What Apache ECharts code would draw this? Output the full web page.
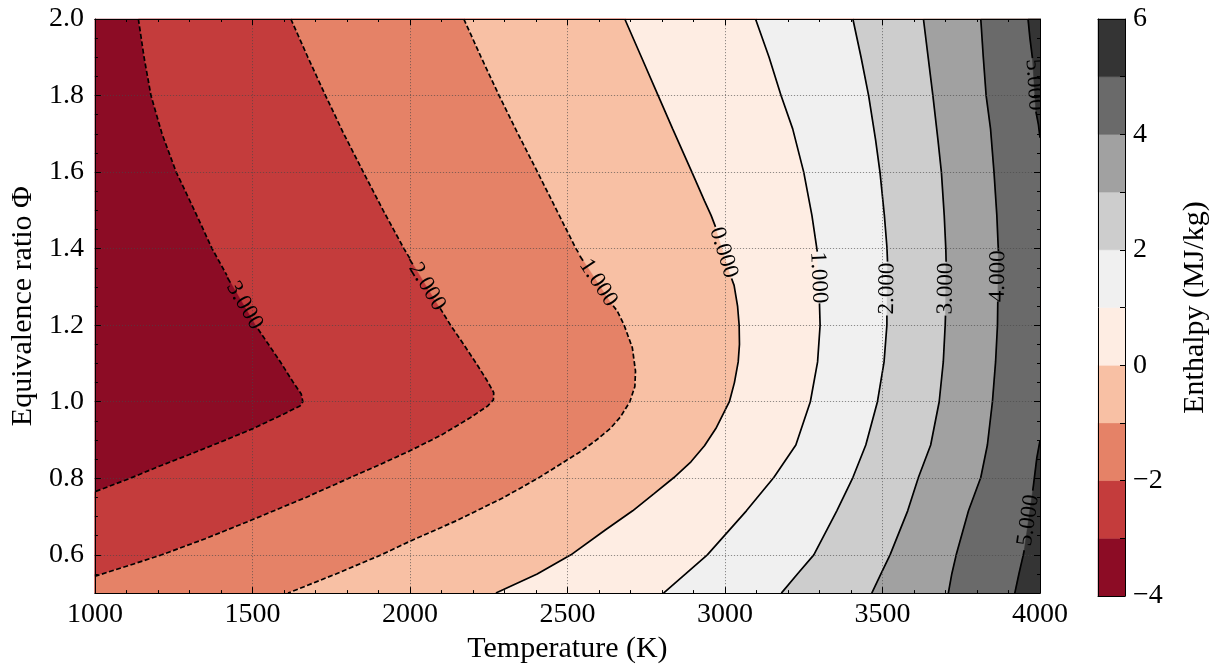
<!DOCTYPE html>
<html>
<head>
<meta charset="utf-8">
<script src="https://cdn.jsdelivr.net/npm/echarts@6.0.0/dist/echarts.min.js"></script>
<style>
  html, body { margin: 0; padding: 0; background: #fff; }
  #chart { width: 1221px; height: 669px; }
</style>
</head>
<body>
<div id="chart"></div>
<script>
// Enthalpy levels (MJ/kg) and the colour of each band between two levels
const levels = [-4, -3, -2, -1, 0, 1, 2, 3, 4, 5, 6];
const bandColors = ['#8c0c25', '#c43c3c', '#e58267', '#f8c0a4', '#feede3',
                    '#f0f0f0', '#cdcdcd', '#a1a1a1', '#6a6a6a', '#343434'];

// Axis ranges and ticks
const tempRange = [1000, 4000];
const phiRange = [0.5, 2.0];
const tempStep = 500;
const phiTicks = [0.6, 0.8, 1.0, 1.2, 1.4, 1.6, 1.8, 2.0];
const phiMinorStep = 0.05;
const cbarStep = 2;

// Iso-enthalpy lines as [T (K), Φ]; null marks the gap where the inline label sits
const isoM3 = [[1138, 2.0], [1156, 1.9], [1178, 1.8], [1213, 1.7], [1258, 1.6], [1316, 1.5],
  [1372, 1.4], [1419, 1.33], null, [1518, 1.19], [1592, 1.1], [1630, 1.05], [1655, 1.02],
  [1660, 1.0], [1651, 0.989], [1600, 0.968], [1500, 0.929], [1400, 0.895], [1300, 0.862],
  [1200, 0.830], [1115, 0.801], [1000, 0.765]];
const isoM2 = [[1622, 2.0], [1676, 1.9], [1732, 1.8], [1790, 1.7], [1852, 1.6], [1915, 1.5],
  [1981, 1.4], [2000, 1.374], null, [2096, 1.244], [2129, 1.2], [2172, 1.148], [2213, 1.097],
  [2245, 1.055], [2266, 1.024], [2265, 1.005], [2247, 0.989], [2191, 0.958], [2100, 0.913],
  [1998, 0.871], [1900, 0.834], [1806, 0.80], [1670, 0.75], [1492, 0.689], [1350, 0.642],
  [1212, 0.6], [1100, 0.57], [1000, 0.544]];
const isoM1 = [[2171, 2.0], [2226, 1.9], [2283, 1.8], [2343, 1.7], [2405, 1.6], [2466, 1.5],
  [2527, 1.4], [2537, 1.387], null, [2645, 1.251], [2658, 1.237], [2680, 1.2], [2706, 1.141],
  [2716, 1.08], [2714, 1.04], [2698, 1.0], [2668, 0.96], [2636, 0.93], [2592, 0.9],
  [2542, 0.87], [2484, 0.84], [2406, 0.8], [2298, 0.75], [2150, 0.69], [2004, 0.637],
  [1909, 0.6], [1765, 0.55], [1613, 0.5]];
const iso0 = [[2682, 2.0], [2735, 1.9], [2788, 1.8], [2834, 1.713], [2895, 1.6], [2935, 1.525],
  [2956, 1.487], [2970, 1.457], null, [3021, 1.322], [3029, 1.304], [3040, 1.25], [3045, 1.2],
  [3046, 1.15], [3042, 1.104], [3030, 1.05], [3014, 1.0], [2971, 0.93], [2935, 0.885],
  [2892, 0.843], [2838, 0.802], [2775, 0.76], [2707, 0.715], [2620, 0.665], [2511, 0.6],
  [2404, 0.55], [2273, 0.5]];
const iso1 = [[3097, 2.0], [3140, 1.9], [3178, 1.8], [3215, 1.713], [3250, 1.6], [3276, 1.487],
  [3290, 1.409], [3293, 1.392], null, [3300, 1.257], [3302, 1.2], [3294, 1.104], [3271, 1.0],
  [3225, 0.887], [3155, 0.802], [3068, 0.715], [2944, 0.6], [2875, 0.55], [2805, 0.5]];
const iso2 = [[3406, 2.0], [3432, 1.9], [3456, 1.8], [3478, 1.685], [3492, 1.6], [3506, 1.487],
  [3514, 1.405], [3516, 1.366], null, [3514, 1.225], [3514, 1.2], [3505, 1.104], [3484, 1.0],
  [3447, 0.887], [3406, 0.802], [3355, 0.715], [3282, 0.6], [3230, 0.55], [3179, 0.5]];
const iso3 = [[3630, 2.0], [3645, 1.9], [3660, 1.8], [3676, 1.685], [3687, 1.6], [3696, 1.487],
  [3701, 1.4], [3702, 1.366], null, [3700, 1.225], [3699, 1.2], [3693, 1.104], [3680, 1.0],
  [3653, 0.887], [3614, 0.802], [3580, 0.715], [3524, 0.6], [3495, 0.55], [3466, 0.5]];
const iso4 = [[3812, 2.0], [3820, 1.9], [3829, 1.8], [3843, 1.713], [3854, 1.6], [3863, 1.487],
  [3867, 1.41], [3868, 1.394], null, [3866, 1.262], [3865, 1.2], [3859, 1.104], [3849, 1.0],
  [3833, 0.887], [3812, 0.802], [3773, 0.715], [3734, 0.6], [3720, 0.55], [3709, 0.5]];
const iso5Upper = [[3962, 2.0], [3968, 1.95], [3976, 1.898], null, [3987, 1.758], [3995, 1.724],
  [4000, 1.69]];
const iso5Lower = [[4000, 0.898], [3990, 0.854], [3979, 0.78], [3977, 0.768], null,
  [3950, 0.612], [3947, 0.6], [3933, 0.55], [3920, 0.5]];

const isolines = [
  { level: -3, pts: isoM3 }, { level: -2, pts: isoM2 }, { level: -1, pts: isoM1 },
  { level: 0, pts: iso0 }, { level: 1, pts: iso1 }, { level: 2, pts: iso2 },
  { level: 3, pts: iso3 }, { level: 4, pts: iso4 },
  { level: 5, pts: iso5Upper }, { level: 5, pts: iso5Lower }
];

const FONT = '"Liberation Serif", "DejaVu Serif", serif';
const [xMin, xMax] = tempRange;
const [yMin, yMax] = phiRange;

// Position along the frame, counter-clockwise: bottom 0..1, right 1..2, top 2..3, left 3..4
function framePos(p) {
  const ex = 1e-9 * (xMax - xMin), ey = 1e-9 * (yMax - yMin);
  if (Math.abs(p[1] - yMin) < ey) return (p[0] - xMin) / (xMax - xMin);
  if (Math.abs(p[0] - xMax) < ex) return 1 + (p[1] - yMin) / (yMax - yMin);
  if (Math.abs(p[1] - yMax) < ey) return 2 + (xMax - p[0]) / (xMax - xMin);
  return 3 + (yMax - p[1]) / (yMax - yMin);
}
const frameCorners = [[xMin, yMin], [xMax, yMin], [xMax, yMax], [xMin, yMax]];

// Region above a level: the line itself closed along the frame on its high-enthalpy side
function highSide(pts) {
  const out = pts.slice();
  const sEnd = framePos(pts[pts.length - 1]);
  let sStart = framePos(pts[0]);
  if (sStart < sEnd) sStart += 4;
  for (let s = Math.ceil(sEnd); s <= Math.floor(sStart); s++) out.push(frameCorners[s % 4]);
  return out;
}

// Filled bands: lowest band over the whole frame, then each region above a level
const fillPolys = [{ pts: frameCorners, color: bandColors[0] }];
isolines.forEach(l => {
  fillPolys.push({
    pts: highSide(l.pts.filter(p => p !== null)),
    color: bandColors[levels.indexOf(l.level)]
  });
});

// Inline labels sit in the gaps of each line
const labelItems = [];
isolines.forEach(l => {
  l.pts.forEach((p, i) => {
    if (p === null) labelItems.push({ a: l.pts[i - 1], b: l.pts[i + 1], text: l.level.toFixed(3) });
  });
});

// Line segments between the label gaps
const lineSeries = [];
isolines.forEach(l => {
  let seg = [];
  const flush = () => {
    if (seg.length > 1) {
      lineSeries.push({
        type: 'line', data: seg, xAxisIndex: 0, yAxisIndex: 0,
        symbol: 'none', silent: true, animation: false, z: 3,
        lineStyle: { color: '#000', width: 1.7, type: l.level < 0 ? [5, 2.5] : 'solid' }
      });
    }
    seg = [];
  };
  l.pts.forEach(p => { if (p === null) flush(); else seg.push(p); });
  flush();
});

const tickFont = { color: '#000', fontSize: 28, fontFamily: FONT };
const nameFont = { color: '#000', fontSize: 30, fontFamily: FONT };
const blackLine = { show: true, onZero: false, lineStyle: { color: '#000', width: 1 } };
const gridDots = { show: true, lineStyle: { color: 'rgba(70,70,70,0.75)', width: 0.8, type: [1.2, 1.8] } };

const chart = echarts.init(document.getElementById('chart'), null, { renderer: 'canvas' });
chart.setOption({
  animation: false,
  backgroundColor: '#fff',
  grid: [
    { left: 93, top: 19, width: 947, height: 577 },
    { left: 1098, top: 19, width: 27, height: 577 }
  ],
  xAxis: [
    { type: 'value', gridIndex: 0, min: xMin, max: xMax, interval: tempStep, position: 'bottom', z: 5,
      name: 'Temperature (K)', nameLocation: 'middle', nameGap: 40, nameTextStyle: nameFont,
      axisLine: blackLine,
      axisTick: { show: true, inside: true, length: 6, lineStyle: { color: '#000' } },
      minorTick: { show: true, splitNumber: 5, length: 3, lineStyle: { color: '#000' } },
      axisLabel: Object.assign({ margin: 8, formatter: v => String(v) }, tickFont),
      splitLine: gridDots, minorSplitLine: { show: false } },
    { type: 'value', gridIndex: 0, min: xMin, max: xMax, interval: tempStep, position: 'top', z: 5,
      axisLine: blackLine,
      axisTick: { show: true, inside: true, length: 6, lineStyle: { color: '#000' } },
      minorTick: { show: true, splitNumber: 5, length: 3, lineStyle: { color: '#000' } },
      axisLabel: { show: false }, splitLine: { show: false } },
    { type: 'value', gridIndex: 1, min: 0, max: 1, position: 'bottom', z: 5,
      axisLine: blackLine, axisTick: { show: false }, axisLabel: { show: false }, splitLine: { show: false } },
    { type: 'value', gridIndex: 1, min: 0, max: 1, position: 'top', z: 5,
      axisLine: blackLine, axisTick: { show: false }, axisLabel: { show: false }, splitLine: { show: false } }
  ],
  yAxis: [
    { type: 'value', gridIndex: 0, min: yMin, max: yMax, position: 'left', z: 5,
      name: 'Equivalence ratio Φ', nameLocation: 'middle', nameGap: 48, nameTextStyle: nameFont,
      axisLine: blackLine,
      axisTick: { show: true, inside: true, length: 6, customValues: phiTicks, lineStyle: { color: '#000' } },
      axisLabel: Object.assign({ margin: 11, customValues: phiTicks, formatter: v => v.toFixed(1) }, tickFont),
      splitLine: gridDots },
    { type: 'value', gridIndex: 0, min: yMin, max: yMax, interval: phiMinorStep, position: 'left', z: 5,
      axisLine: { show: false },
      axisTick: { show: true, inside: true, length: 3, lineStyle: { color: '#000' } },
      axisLabel: { show: false }, splitLine: { show: false } },
    { type: 'value', gridIndex: 0, min: yMin, max: yMax, position: 'right', z: 5,
      axisLine: blackLine,
      axisTick: { show: true, inside: true, length: 6, customValues: phiTicks, lineStyle: { color: '#000' } },
      axisLabel: { show: false, customValues: phiTicks }, splitLine: { show: false } },
    { type: 'value', gridIndex: 0, min: yMin, max: yMax, interval: phiMinorStep, position: 'right', z: 5,
      axisLine: { show: false },
      axisTick: { show: true, inside: true, length: 3, lineStyle: { color: '#000' } },
      axisLabel: { show: false }, splitLine: { show: false } },
    { type: 'value', gridIndex: 1, min: levels[0], max: levels[levels.length - 1], interval: cbarStep,
      position: 'right', z: 5,
      name: 'Enthalpy (MJ/kg)', nameLocation: 'middle', nameRotate: 90, nameGap: 55, nameTextStyle: nameFont,
      axisLine: blackLine,
      axisTick: { show: true, inside: true, length: 5, lineStyle: { color: '#000' } },
      minorTick: { show: true, splitNumber: 2, length: 5, lineStyle: { color: '#000' } },
      axisLabel: Object.assign({ margin: 8, formatter: v => (v < 0 ? '\u2212' + Math.abs(v) : String(v)) }, tickFont),
      splitLine: { show: false } },
    { type: 'value', gridIndex: 1, min: levels[0], max: levels[levels.length - 1], position: 'left', z: 5,
      axisLine: blackLine, axisTick: { show: false }, axisLabel: { show: false }, splitLine: { show: false } }
  ],
  series: [
    {
      type: 'custom', name: 'bands', xAxisIndex: 0, yAxisIndex: 0, z: 1, silent: true,
      data: fillPolys.map((p, i) => [xMin, yMin, i]),
      renderItem: (params, api) => {
        const poly = fillPolys[params.dataIndex];
        return {
          type: 'polygon',
          shape: { points: poly.pts.map(p => api.coord(p)) },
          style: { fill: poly.color, stroke: poly.color, lineWidth: 0.5 }
        };
      }
    },
    ...lineSeries,
    {
      type: 'custom', name: 'labels', xAxisIndex: 0, yAxisIndex: 0, z: 6, silent: true, clip: true,
      data: labelItems.map((l, i) => [xMin, yMin, i]),
      renderItem: (params, api) => {
        const it = labelItems[params.dataIndex];
        const pa = api.coord(it.a), pb = api.coord(it.b);
        let ang = Math.atan2(-(pb[1] - pa[1]), pb[0] - pa[0]);
        if (ang > Math.PI / 2) ang -= Math.PI;
        if (ang <= -Math.PI / 2) ang += Math.PI;
        return {
          type: 'text',
          x: (pa[0] + pb[0]) / 2, y: (pa[1] + pb[1]) / 2, rotation: ang,
          style: { text: it.text, fill: '#000', font: '23px ' + FONT, align: 'center', verticalAlign: 'middle' }
        };
      }
    },
    {
      type: 'custom', name: 'colorbar', xAxisIndex: 2, yAxisIndex: 4, z: 1, silent: true,
      data: bandColors.map((c, i) => [0, levels[i], i]),
      renderItem: (params, api) => {
        const i = params.dataIndex;
        const p0 = api.coord([0, levels[i]]);
        const p1 = api.coord([1, levels[i + 1]]);
        return {
          type: 'rect',
          shape: { x: p0[0], y: p1[1], width: p1[0] - p0[0], height: p0[1] - p1[1] },
          style: { fill: bandColors[i], stroke: bandColors[i], lineWidth: 0.5 }
        };
      }
    }
  ]
});
</script>
</body>
</html>
